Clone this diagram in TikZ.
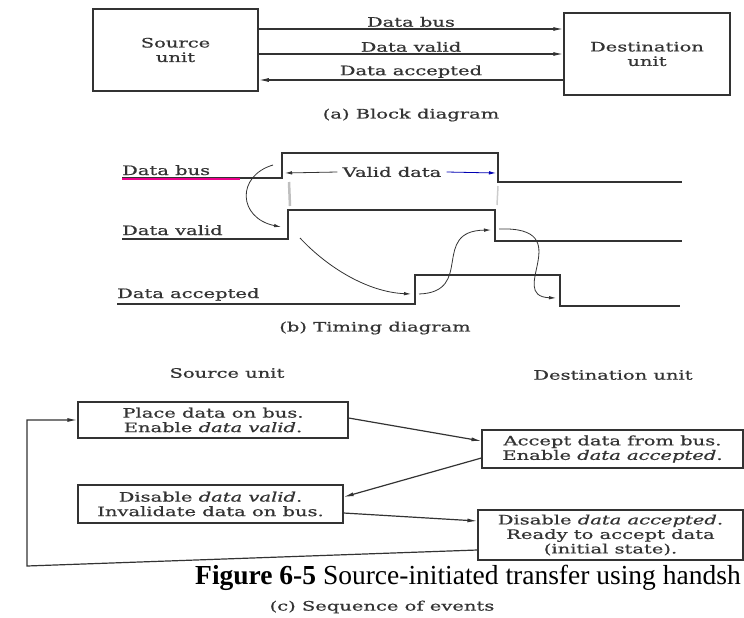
\documentclass[tikz,border=0pt]{standalone}
\usepackage{fontspec}
\setmainfont{DejaVu Serif}[FakeStretch=1.5, FakeBold=0.7]
\newfontfamily\capfont{Liberation Serif}
\usetikzlibrary{arrows.meta,positioning}
\definecolor{ink}{gray}{0.2}
\tikzset{
    BX/.style ={rectangle, draw=ink, line width=1.5pt, align=center, inner sep=0pt},
    BS/.style ={rectangle, draw=ink, line width=1.2pt, align=center, inner sep=0pt},
    SG/.style ={draw=ink, line width=2pt},
    AR/.style ={draw=ink, line width=1.2pt, -{Latex[length=10pt,width=4pt]}},
    CU/.style ={draw=ink, line width=0.8pt, -{Latex[length=7pt,width=3.5pt]}},
    LB/.style ={midway, above, inner sep=1.5pt}}

\begin{document}
\begin{tikzpicture}
        [x=1pt, y=-1pt,
        every node/.style={font=\fontsize{13}{14.5}\selectfont, text=ink}]
        \useasboundingbox (0,0) rectangle (744,618);

        % (a) block diagram
        \node[BX, minimum width=165pt, minimum height=82pt] (src) at (175.5,50) {Source\\unit};
        \node[BX, minimum width=166pt, minimum height=82pt] (dst) at (647,54) {Destination\\unit};
        \draw[AR] (src.east |- 0,29) -- (dst.west |- 0,29) node[LB] {Data bus};
        \draw[AR] (src.east |- 0,54) -- (dst.west |- 0,54) node[LB] {Data valid};
        \draw[AR] (dst.west |- 0,80) -- (src.east |- 0,80) node[LB] {Data accepted};
        \node (capa) at (411,115) {(a) Block diagram};

        % (b) timing diagram
        \draw[SG] (122,178) -- (282,178) -- (282,153) -- (498,153) -- (498,182) -- (682,182);
        \draw[magenta, line width=2.2pt] (122,179) -- (240,179);
        \draw[SG] (122,239) -- (288,239) -- (288,210) -- (495,210) -- (495,241) -- (682,241);
        \draw[SG] (117,304) -- (415,304) -- (415,275) -- (560,275) -- (560,306) -- (680,306);
        \draw[black!25, line width=2.5pt] (289,182) -- (290,206);
        \draw[black!20, line width=1.5pt] (498,186) -- (497,205);
        \node[anchor=base west, inner sep=0pt] (lbus) at (122,175) {Data bus};
        \node[anchor=base west, inner sep=0pt] (lval) at (122,235) {Data valid};
        \node[anchor=base west, inner sep=0pt] (lacc) at (117,298) {Data accepted};
        \node[inner sep=5pt] (vd) at (392,172) {Valid data};
        \coordinate (up) at (285,173);
        \coordinate (down) at (496,173);
        \draw[CU] (vd.west) -- (up);
        \draw[CU, draw=blue!70!black] (vd.east) -- (down);
        \draw[CU] (273,165) .. controls (236,176) and (238,218) .. (281,227);
        \draw[CU] (300,238) .. controls (328,268) and (368,292) .. (411,294);
        \draw[CU] (419,294) .. controls (475,292) and (430,231) .. (491,230);
        \draw[CU] (499,229) .. controls (580,226) and (505,296) .. (556,298);
        \node (capb) at (375,328) {(b) Timing diagram};

        % (c) sequence of events
        \node (hsrc) at (227,373) {Source unit};
        \node (hdst) at (613,375) {Destination unit};
        \node[BS, minimum width=270pt, minimum height=36pt] (place) at (213,420)
            {Place data on bus.\\Enable \textit{data valid}.};
        \node[BS, minimum width=265pt, minimum height=38pt] (disv) at (210.5,504)
            {Disable \textit{data valid}.\\Invalidate data on bus.};
        \node[BS, minimum width=261pt, minimum height=38pt] (acc) at (612.5,449)
            {Accept data from bus.\\Enable \textit{data accepted}.};
        \node[BS, minimum width=265pt, minimum height=50pt] (disa) at (610.5,535)
            {Disable \textit{data accepted}.\\Ready to accept data\\(initial state).};
        \coordinate (back) at (27,566);
        \draw[AR] (place.east |- 0,418) -- (acc.west |- 0,441);
        \draw[AR] (acc.west |- 0,458) -- (disv.east |- 0,497);
        \draw[AR] (disv.east |- 0,513) -- (disa.west |- 0,521);
        \draw[AR] (disa.west |- 0,550) -- (back) |- (place.west);
        \node[anchor=base west, inner sep=0pt, text=black, font=\capfont\fontsize{27.5}{30}\selectfont] (fig)
            at (195,584) {\textbf{Figure 6-5} Source-initiated transfer using handsh};
        \node (capc) at (382,607) {(c) Sequence of events};
\end{tikzpicture}
\end{document}
